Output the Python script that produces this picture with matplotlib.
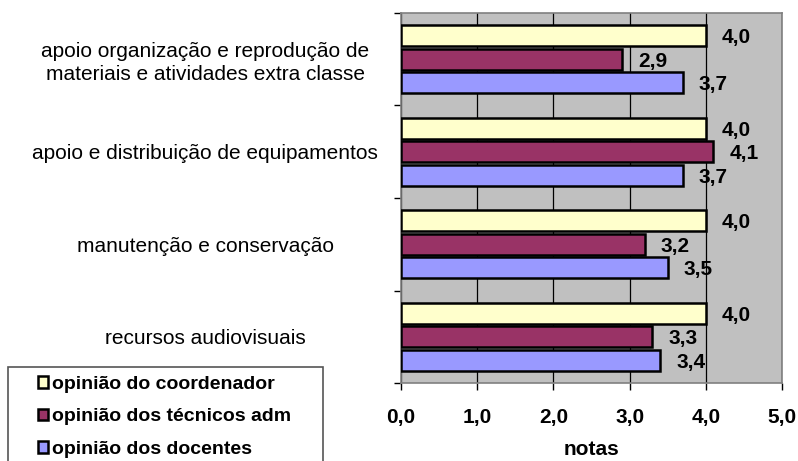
import numpy as np
import matplotlib.pyplot as plt
from matplotlib.patches import Patch, Rectangle

plt.rcParams['font.family'] = ['Liberation Sans', 'DejaVu Sans']

# categories listed bottom to top
categorias = ['recursos audiovisuais',
              'manutenção e conservação',
              'apoio e distribuição de equipamentos',
              'apoio organização e reprodução de\nmateriais e atividades extra classe']
series = ['opinião do coordenador', 'opinião dos técnicos adm', 'opinião dos docentes']
coordenador = [4.0, 4.0, 4.0, 4.0]
tecnicos = [3.3, 3.2, 4.1, 2.9]
docentes = [3.4, 3.5, 3.7, 3.7]
cores = ['#FFFFCC', '#993366', '#9999FF']
xticks = [0, 1, 2, 3, 4, 5]

fig = plt.figure(figsize=(7.98, 4.61), dpi=100)
ax = fig.add_axes([401/798, 1 - 383/461, 381/798, 370/461])
ax.set_facecolor('#C0C0C0')

y = np.arange(len(categorias))
h = 0.225
step = 0.254
offsets = [step, 0, -step]
for vals, off, cor in zip([coordenador, tecnicos, docentes], offsets, cores):
    bars = ax.barh(y + off, vals, height=h, color=cor, edgecolor='black',
                   linewidth=1.8, zorder=3)
    for b, v in zip(bars, vals):
        ax.text(v + 0.21, b.get_y() + b.get_height() / 2 - 0.02,
                f'{v:.1f}'.replace('.', ','), ha='left', va='center',
                fontsize=15, fontweight='bold', zorder=4)

ax.set_xlim(0, 5)
ax.set_ylim(-0.5, len(categorias) - 0.5)
ax.set_xticks(xticks)
ax.set_xticklabels([f'{t:.1f}'.replace('.', ',') for t in xticks],
                   fontsize=15, fontweight='bold')
ax.tick_params(axis='x', length=5, width=1, pad=13, color='black')
ax.set_yticks(y)
ax.set_yticklabels(categorias, fontsize=15, ha='center', linespacing=1.25)
ax.tick_params(axis='y', length=0, pad=141)
ax.set_yticks(np.arange(len(categorias) + 1) - 0.5, minor=True)
ax.tick_params(axis='y', which='minor', length=5, width=1)
ax.set_xlabel('notas', fontsize=15, fontweight='bold', labelpad=9)

ax.grid(axis='x', color='black', linewidth=0.9, zorder=1)
for s in ax.spines.values():
    s.set_color('#808080')
    s.set_linewidth(1.2)

# legend frame runs past the bottom edge
fig.add_artist(Rectangle((8/798, -0.05), 315/798, 1.05 - 367/461,
                         transform=fig.transFigure, facecolor='white',
                         edgecolor='#555555', linewidth=1.2))
handles = [Patch(facecolor=c, edgecolor='black', linewidth=1.8) for c in cores]
fig.legend(handles, series, loc='upper left',
           bbox_to_anchor=(30/798, 1 - 368/461), frameon=False,
           prop={'weight': 'bold', 'size': 14}, handlelength=0.55,
           handleheight=0.55, handletextpad=0.2, labelspacing=0.8,
           borderaxespad=0)

fig.savefig('out.png', dpi=100)
